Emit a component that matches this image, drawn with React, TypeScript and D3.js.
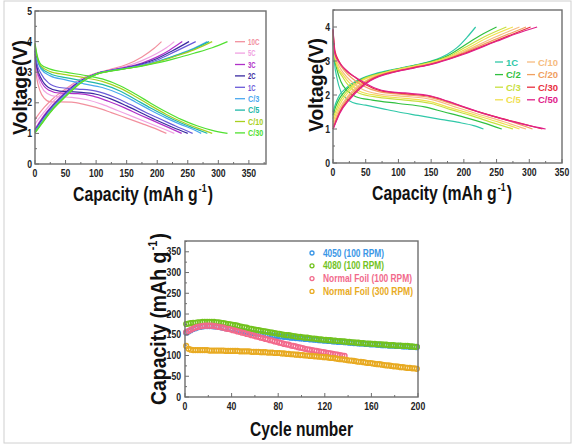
import React from 'react';
import * as d3 from 'd3';

type Pt = [number, number];

// ---------- Panel 1 (top-left) ----------
const rates1 = ['10C', '5C', '3C', '2C', '1C', 'C/3', 'C/5', 'C/10', 'C/30'];
const colors1 = ['#f2909e', '#f0a2e2', '#b030c8', '#3a2aa0', '#6a5ad8', '#4aa8f0', '#20b8a8', '#a8d020', '#50e030'];
const discharge1: Pt[][] = [
  [[0, 3.3], [3, 2.8], [8, 2.4], [15, 2.15], [25, 2.03], [40, 2.03], [60, 2.02], [80, 1.95], [100, 1.85], [125, 1.68], [150, 1.5], [175, 1.32], [200, 1.13], [215, 1.0]],
  [[0, 3.5], [3, 3.0], [10, 2.55], [20, 2.3], [35, 2.2], [60, 2.18], [85, 2.1], [110, 1.95], [135, 1.75], [160, 1.55], [185, 1.35], [210, 1.15], [228, 1.0]],
  [[0, 3.6], [3, 3.1], [10, 2.7], [22, 2.42], [40, 2.32], [70, 2.3], [95, 2.22], [120, 2.05], [145, 1.85], [170, 1.62], [195, 1.4], [220, 1.18], [240, 1.0]],
  [[0, 3.7], [3, 3.2], [10, 2.8], [22, 2.5], [40, 2.38], [70, 2.35], [100, 2.28], [125, 2.12], [150, 1.9], [175, 1.66], [200, 1.42], [225, 1.2], [250, 1.0]],
  [[0, 3.75], [3, 3.3], [10, 2.95], [22, 2.65], [40, 2.5], [70, 2.45], [100, 2.38], [130, 2.18], [155, 1.95], [180, 1.7], [205, 1.47], [230, 1.24], [258, 1.0]],
  [[0, 3.8], [3, 3.45], [10, 3.1], [25, 2.88], [50, 2.75], [80, 2.62], [110, 2.5], [140, 2.28], [165, 2.02], [190, 1.75], [215, 1.5], [240, 1.28], [260, 1.12], [272, 1.0]],
  [[0, 3.85], [3, 3.5], [10, 3.15], [25, 2.95], [50, 2.82], [80, 2.72], [110, 2.6], [140, 2.38], [165, 2.1], [190, 1.82], [215, 1.56], [240, 1.33], [265, 1.13], [282, 1.0]],
  [[0, 3.9], [3, 3.55], [10, 3.2], [25, 3.02], [50, 2.92], [80, 2.82], [110, 2.7], [140, 2.47], [165, 2.2], [190, 1.9], [215, 1.62], [240, 1.38], [265, 1.18], [290, 1.0]],
  [[0, 3.95], [3, 3.6], [10, 3.25], [25, 3.1], [50, 3.0], [80, 2.9], [110, 2.78], [140, 2.55], [165, 2.28], [190, 1.98], [215, 1.7], [240, 1.45], [265, 1.25], [290, 1.1], [315, 1.0]],
];
const charge1: Pt[][] = [
  [[0, 1.45], [5, 1.6], [15, 1.85], [30, 2.15], [50, 2.45], [75, 2.78], [100, 2.97], [125, 3.1], [150, 3.25], [175, 3.5], [195, 3.78], [207, 4.0]],
  [[0, 1.3], [5, 1.45], [15, 1.7], [30, 2.05], [50, 2.4], [75, 2.75], [100, 2.95], [125, 3.08], [150, 3.2], [175, 3.38], [200, 3.62], [215, 3.8], [228, 4.0]],
  [[0, 1.15], [5, 1.3], [15, 1.6], [30, 1.95], [50, 2.35], [75, 2.72], [100, 2.95], [125, 3.07], [150, 3.17], [175, 3.3], [200, 3.5], [220, 3.72], [241, 4.0]],
  [[0, 1.1], [5, 1.25], [15, 1.55], [30, 1.92], [50, 2.32], [75, 2.72], [100, 2.95], [125, 3.06], [150, 3.15], [175, 3.27], [200, 3.45], [225, 3.7], [252, 4.0]],
  [[0, 1.08], [5, 1.22], [15, 1.52], [30, 1.9], [50, 2.3], [75, 2.7], [100, 2.95], [125, 3.05], [150, 3.14], [175, 3.25], [200, 3.4], [230, 3.68], [263, 4.0]],
  [[0, 1.05], [5, 1.2], [15, 1.48], [30, 1.85], [50, 2.25], [75, 2.68], [100, 2.94], [125, 3.05], [150, 3.13], [175, 3.22], [200, 3.35], [230, 3.55], [260, 3.78], [282, 4.0]],
  [[0, 1.04], [5, 1.18], [15, 1.46], [30, 1.83], [50, 2.23], [75, 2.67], [100, 2.93], [125, 3.05], [150, 3.12], [175, 3.21], [200, 3.34], [230, 3.54], [260, 3.76], [285, 4.0]],
  [[0, 1.03], [5, 1.16], [15, 1.44], [30, 1.82], [50, 2.22], [75, 2.66], [100, 2.93], [125, 3.04], [150, 3.12], [175, 3.21], [200, 3.33], [230, 3.52], [260, 3.73], [290, 4.0]],
  [[0, 1.02], [5, 1.15], [15, 1.42], [30, 1.8], [50, 2.2], [75, 2.65], [100, 2.93], [125, 3.04], [150, 3.12], [175, 3.2], [200, 3.3], [230, 3.45], [260, 3.62], [290, 3.8], [315, 4.0]],
];

// ---------- Panel 2 (top-right) ----------
const rates2 = ['1C', 'C/2', 'C/3', 'C/5', 'C/10', 'C/20', 'C/30', 'C/50'];
const colors2 = ['#30c8a8', '#30c040', '#c8e040', '#f0e050', '#f6bc80', '#f0a060', '#e83040', '#e0208a'];
const discharge2: Pt[][] = [
  [[0, 3.6], [2, 3.0], [6, 2.5], [12, 2.1], [20, 1.9], [30, 1.78], [50, 1.7], [75, 1.6], [100, 1.5], [130, 1.4], [160, 1.3], [190, 1.2], [215, 1.1], [230, 1.0]],
  [[0, 3.7], [2, 3.15], [6, 2.75], [12, 2.4], [22, 2.12], [35, 1.95], [60, 1.85], [100, 1.75], [140, 1.65], [170, 1.5], [200, 1.35], [230, 1.18], [258, 1.0]],
  [[0, 3.75], [2, 3.2], [6, 2.85], [14, 2.55], [25, 2.25], [40, 2.05], [70, 1.93], [110, 1.85], [150, 1.75], [180, 1.57], [210, 1.4], [245, 1.18], [275, 1.0]],
  [[0, 3.8], [2, 3.25], [6, 2.9], [15, 2.6], [27, 2.32], [40, 2.12], [70, 1.98], [110, 1.9], [150, 1.8], [180, 1.62], [210, 1.45], [250, 1.22], [285, 1.0]],
  [[0, 3.85], [2, 3.3], [7, 2.95], [16, 2.65], [28, 2.4], [42, 2.2], [70, 2.03], [110, 1.96], [150, 1.87], [185, 1.66], [220, 1.45], [260, 1.22], [295, 1.0]],
  [[0, 3.9], [2, 3.35], [8, 3.0], [18, 2.7], [30, 2.48], [45, 2.28], [70, 2.1], [110, 2.01], [150, 1.92], [185, 1.72], [225, 1.48], [265, 1.26], [305, 1.0]],
  [[0, 3.92], [3, 3.3], [9, 3.0], [20, 2.72], [35, 2.5], [50, 2.3], [72, 2.13], [110, 2.04], [150, 1.95], [180, 1.78], [210, 1.58], [245, 1.38], [280, 1.2], [320, 1.0]],
  [[0, 3.95], [3, 3.2], [10, 2.95], [25, 2.65], [45, 2.4], [65, 2.2], [85, 2.1], [110, 2.06], [150, 1.97], [175, 1.82], [200, 1.65], [220, 1.52], [240, 1.4], [270, 1.24], [300, 1.1], [325, 1.0]],
];
const charge2: Pt[][] = [
  [[0, 1.5], [4, 1.75], [10, 2.0], [20, 2.2], [30, 2.35], [45, 2.5], [60, 2.6], [80, 2.7], [100, 2.78], [125, 2.88], [150, 3.0], [175, 3.2], [190, 3.4], [205, 3.7], [218, 4.0]],
  [[0, 1.4], [4, 1.65], [10, 1.9], [20, 2.15], [30, 2.32], [45, 2.48], [60, 2.58], [80, 2.68], [100, 2.77], [125, 2.87], [150, 2.98], [175, 3.15], [200, 3.45], [225, 3.75], [250, 4.0]],
  [[0, 1.3], [4, 1.52], [10, 1.8], [20, 2.08], [30, 2.28], [45, 2.46], [60, 2.57], [80, 2.67], [100, 2.76], [125, 2.86], [150, 2.96], [175, 3.12], [200, 3.38], [230, 3.7], [265, 4.0]],
  [[0, 1.2], [4, 1.42], [10, 1.7], [20, 2.0], [32, 2.25], [45, 2.43], [60, 2.55], [80, 2.66], [100, 2.75], [125, 2.85], [150, 2.95], [175, 3.1], [200, 3.32], [240, 3.72], [275, 4.0]],
  [[0, 1.1], [4, 1.32], [10, 1.6], [22, 1.95], [35, 2.22], [50, 2.42], [65, 2.55], [80, 2.64], [100, 2.73], [125, 2.83], [150, 2.93], [175, 3.08], [200, 3.28], [250, 3.72], [285, 4.0]],
  [[0, 1.05], [4, 1.25], [10, 1.52], [22, 1.9], [37, 2.2], [52, 2.42], [65, 2.54], [80, 2.63], [100, 2.72], [125, 2.82], [150, 2.92], [175, 3.06], [200, 3.25], [250, 3.65], [295, 4.0]],
  [[0, 1.0], [4, 1.2], [10, 1.48], [24, 1.88], [40, 2.2], [55, 2.42], [68, 2.54], [80, 2.62], [100, 2.71], [125, 2.81], [150, 2.91], [175, 3.05], [200, 3.22], [250, 3.6], [302, 4.0]],
  [[0, 1.0], [4, 1.18], [10, 1.45], [25, 1.86], [42, 2.2], [57, 2.42], [70, 2.54], [85, 2.63], [100, 2.7], [125, 2.8], [150, 2.9], [175, 3.04], [200, 3.2], [250, 3.58], [280, 3.8], [312, 4.0]],
];

// ---------- Panel 3 (bottom) ----------
const series3 = ['4050 (100 RPM)', '4080 (100 RPM)', 'Normal Foil (100 RPM)', 'Normal Foil (300 RPM)'];
const colors3 = ['#3a96e6', '#72c21e', '#f26a8c', '#e8aa22'];
// cycles 1,3,5,... (every second cycle)
const cap4050 = [
  155, 158, 161, 164, 166, 168, 169, 170, 171, 171,
  171, 171, 170, 170, 169, 168, 167, 166, 165, 164,
  163, 162, 161, 160, 159, 158, 157, 156, 155, 154,
  153, 153, 152, 151, 150, 150, 149, 148, 148, 147,
  146, 146, 145, 145, 144, 143, 143, 142, 142, 141,
  141, 140, 140, 139, 139, 138, 138, 137, 137, 136,
  136, 135, 135, 134, 134, 133, 133, 133, 132, 132,
  131, 131, 130, 130, 129, 129, 129, 128, 128, 127,
  127, 127, 126, 126, 125, 125, 125, 124, 124, 124,
  123, 123, 123, 122, 122, 122, 121, 121, 121, 120,
];
const cap4080 = [
  176, 177, 178, 179, 179, 180, 180, 181, 181, 181,
  181, 181, 181, 180, 180, 179, 178, 177, 176, 175,
  174, 173, 172, 170, 169, 168, 167, 165, 164, 163,
  162, 161, 160, 159, 158, 157, 156, 155, 154, 153,
  152, 151, 150, 149, 149, 148, 147, 146, 145, 145,
  144, 143, 143, 142, 141, 141, 140, 139, 139, 138,
  138, 137, 137, 136, 136, 135, 135, 134, 134, 133,
  133, 132, 132, 131, 131, 130, 130, 129, 129, 129,
  128, 128, 127, 127, 127, 126, 126, 125, 125, 125,
  124, 124, 124, 123, 123, 123, 122, 122, 121, 121,
];
const capFoil100 = [
  156, 159, 162, 165, 167, 169, 170, 171, 172, 172,
  172, 172, 171, 170, 169, 168, 167, 165, 164, 163,
  161, 160, 158, 157, 155, 154, 152, 151, 149, 148,
  146, 145, 143, 142, 140, 139, 137, 136, 134, 133,
  131, 130, 128, 127, 126, 124, 123, 122, 120, 119,
  118, 116, 115, 114, 113, 112, 111, 110, 109, 108,
  107, 106, 105, 104, 103, 102, 101, 100, 99,
];
const capFoil300 = [
  123, 116, 114, 113, 113, 113, 113, 113, 113, 113,
  112, 112, 112, 112, 112, 112, 112, 111, 111, 111,
  111, 111, 111, 110, 110, 110, 110, 110, 109, 109,
  109, 109, 108, 108, 108, 107, 107, 107, 106, 106,
  106, 105, 105, 104, 104, 103, 103, 102, 102, 101,
  101, 100, 100, 99, 99, 98, 98, 97, 97, 96,
  96, 95, 94, 94, 93, 92, 91, 91, 90, 89,
  88, 88, 87, 86, 85, 85, 84, 83, 82, 82,
  81, 80, 79, 79, 78, 77, 76, 76, 75, 74,
  74, 73, 72, 72, 71, 70, 70, 69, 69, 68,
];
const caps3 = [cap4050, cap4080, capFoil100, capFoil300];

const FONT = '"Liberation Sans", Arial, Helvetica, sans-serif';
const FRAME = '#6e6e6e';

function range(a: number, b: number, s: number) {
  const r: number[] = [];
  for (let v = a; v <= b + 1e-9; v += s) r.push(+v.toFixed(6));
  return r;
}

type Sc = d3.ScaleLinear<number, number>;

function Frame({ x, y, xMajor, xMinor, yMajor, yMinor, xLabelY, yLabelX, fs }: {
  x: Sc; y: Sc; xMajor: number[]; xMinor: number[]; yMajor: number[]; yMinor: number[]; xLabelY: number; yLabelX: number; fs: number;
}) {
  const [x0, x1] = x.range();
  const [y0, y1] = y.range();
  return (
    <g>
      <rect x={x0} y={y1} width={x1 - x0} height={y0 - y1} fill="none" stroke={FRAME} strokeWidth={1.4} />
      {xMajor.map((v) => (
        <g key={'xm' + v}>
          <line x1={x(v)} x2={x(v)} y1={y0} y2={y0 - 4} stroke={FRAME} strokeWidth={1} />
          <text x={x(v)} y={xLabelY} textAnchor="middle" fontSize={fs} fontWeight="bold" fill="#222"
            textLength={String(v).length * fs * 0.48} lengthAdjust="spacingAndGlyphs">{v}</text>
        </g>
      ))}
      {xMinor.map((v) => (
        <line key={'xn' + v} x1={x(v)} x2={x(v)} y1={y0} y2={y0 - 2} stroke={FRAME} strokeWidth={1} />
      ))}
      {yMajor.map((v) => (
        <g key={'ym' + v}>
          <line x1={x0} x2={x0 + 4} y1={y(v)} y2={y(v)} stroke={FRAME} strokeWidth={1} />
          <text x={yLabelX} y={y(v) + fs * 0.35} textAnchor="end" fontSize={fs} fontWeight="bold" fill="#222"
            textLength={String(v).length * fs * 0.48} lengthAdjust="spacingAndGlyphs">{v}</text>
        </g>
      ))}
      {yMinor.map((v) => (
        <line key={'yn' + v} x1={x0} x2={x0 + 2} y1={y(v)} y2={y(v)} stroke={FRAME} strokeWidth={1} />
      ))}
    </g>
  );
}

// "Capacity (mAh g⁻¹)": three pieces at natural width, whole group compressed horizontally
function CapTitle({ cx, cy, len, fs, rotate }: { cx: number; cy: number; len: number; fs: number; rotate?: boolean }) {
  const supFs = fs * 0.55;
  const mainW = 7.89 * fs;      // Arial/Liberation Bold advance widths
  const supW = 0.889 * supFs;
  const parW = 0.333 * fs;
  const gap = 1.5;
  const total = mainW + supW + parW + 2 * gap;
  const sx = len / total;
  return (
    <g transform={`translate(${cx},${cy})${rotate ? ' rotate(-90)' : ''} scale(${sx},1) translate(${-total / 2},0)`}>
      <text x={0} y={0} fontSize={fs} fontWeight="bold" fill="#111">Capacity (mAh g</text>
      <text x={mainW + gap} y={-fs * 0.42} fontSize={supFs} fontWeight="bold" fill="#111">-1</text>
      <text x={mainW + supW + 2 * gap} y={0} fontSize={fs} fontWeight="bold" fill="#111">)</text>
    </g>
  );
}

export default function App() {
  // Panel 1 scales
  const x1 = d3.scaleLinear().domain([0, 378]).range([35, 266]);
  const y1 = d3.scaleLinear().domain([0, 5]).range([164, 11]);
  const line1 = d3.line<Pt>().x((d) => x1(d[0])).y((d) => y1(d[1])).curve(d3.curveMonotoneX);

  // Panel 2 scales
  const x2 = d3.scaleLinear().domain([0, 350]).range([333, 562]);
  const y2 = d3.scaleLinear().domain([0, 4.5]).range([163, 10]);
  const line2 = d3.line<Pt>().x((d) => x2(d[0])).y((d) => y2(d[1])).curve(d3.curveMonotoneX);

  // Panel 3 scales
  const x3 = d3.scaleLinear().domain([0, 200]).range([185, 418]);
  const y3 = d3.scaleLinear().domain([0, 376]).range([397, 241]);

  return (
    <svg width={576} height={446} style={{ position: 'absolute', left: 0, top: 0, background: '#fff' }} fontFamily={FONT}>
      <rect x={4} y={1} width={567} height={442} fill="#fff" stroke="#d0d0d0" strokeWidth={1} />

      {/* Panel 1 */}
      <g>
        {rates1.map((r, i) => (
          <g key={r}>
            <path d={line1(discharge1[i]) || ''} fill="none" stroke={colors1[i]} strokeWidth={1.2} />
            <path d={line1(charge1[i]) || ''} fill="none" stroke={colors1[i]} strokeWidth={1.2} />
          </g>
        ))}
        <Frame x={x1} y={y1} xMajor={range(0, 350, 50)} xMinor={range(25, 375, 50)} yMajor={range(0, 5, 1)}
          yMinor={range(0.5, 4.5, 1)} xLabelY={177} yLabelX={32} fs={10} />
        {rates1.map((r, i) => (
          <g key={'lg1' + r}>
            <line x1={235} x2={245} y1={41.7 + i * 11.4} y2={41.7 + i * 11.4} stroke={colors1[i]} strokeWidth={1.3} />
            <text x={248} y={41.7 + i * 11.4 + 3.2} fontSize={9} fontWeight="bold" fill={colors1[i]}
              textLength={r.length * 3.8} lengthAdjust="spacingAndGlyphs">{r}</text>
          </g>
        ))}
        <CapTitle cx={143} cy={201} len={140} fs={21} />
        <text x={27} y={87.5} textAnchor="middle" fontSize={20} fontWeight="bold" fill="#111"
          transform="rotate(-90 27 87.5)" textLength={95} lengthAdjust="spacingAndGlyphs">Voltage(V)</text>
      </g>

      {/* Panel 2 */}
      <g>
        {rates2.map((r, i) => (
          <g key={r}>
            <path d={line2(discharge2[i]) || ''} fill="none" stroke={colors2[i]} strokeWidth={1.2} />
            <path d={line2(charge2[i]) || ''} fill="none" stroke={colors2[i]} strokeWidth={1.2} />
          </g>
        ))}
        <Frame x={x2} y={y2} xMajor={range(0, 350, 50)} xMinor={range(25, 325, 50)} yMajor={range(0, 4, 1)}
          yMinor={range(0.5, 4.5, 1)} xLabelY={176} yLabelX={330} fs={10} />
        {rates2.map((r, i) => {
          const col = Math.floor(i / 4);
          const row = i % 4;
          const lx = col === 0 ? 495 : 527;
          const ly = 62 + row * 12.6;
          return (
            <g key={'lg2' + r}>
              <line x1={lx} x2={lx + 8} y1={ly} y2={ly} stroke={colors2[i]} strokeWidth={1.3} />
              <text x={lx + 11} y={ly + 3.5} fontSize={9.5} fontWeight="bold" fill={colors2[i]}>{r}</text>
            </g>
          );
        })}
        <CapTitle cx={442} cy={200} len={140} fs={21} />
        <text x={323} y={85} textAnchor="middle" fontSize={20} fontWeight="bold" fill="#111"
          transform="rotate(-90 323 85)" textLength={94} lengthAdjust="spacingAndGlyphs">Voltage(V)</text>
      </g>

      {/* Panel 3 */}
      <g>
        {caps3.map((arr, si) => (
          <g key={'s3' + si}>
            {arr.map((v, k) => (
              <circle key={k} cx={x3(1 + 2 * k)} cy={y3(v)} r={2.4} fill="none" stroke={colors3[si]} strokeWidth={1.4} />
            ))}
          </g>
        ))}
        <Frame x={x3} y={y3} xMajor={range(0, 200, 40)} xMinor={range(20, 180, 40)} yMajor={range(0, 350, 50)}
          yMinor={range(25, 375, 50)} xLabelY={410} yLabelX={181} fs={10} />
        {series3.map((s, i) => {
          const ly = 253 + i * 12.8;
          const lens = [61, 61, 89, 90];
          return (
            <g key={'lg3' + s}>
              <circle cx={312} cy={ly} r={2} fill="none" stroke={colors3[i]} strokeWidth={1.3} />
              <text x={323} y={ly + 3.5} fontSize={10} fontWeight="bold" fill={colors3[i]}
                textLength={lens[i]} lengthAdjust="spacingAndGlyphs">{s}</text>
            </g>
          );
        })}
        <CapTitle cx={166} cy={319} len={172} fs={22} rotate />
        <text x={301.5} y={436} textAnchor="middle" fontSize={20} fontWeight="bold" fill="#111"
          textLength={103} lengthAdjust="spacingAndGlyphs">Cycle number</text>
      </g>
    </svg>
  );
}
